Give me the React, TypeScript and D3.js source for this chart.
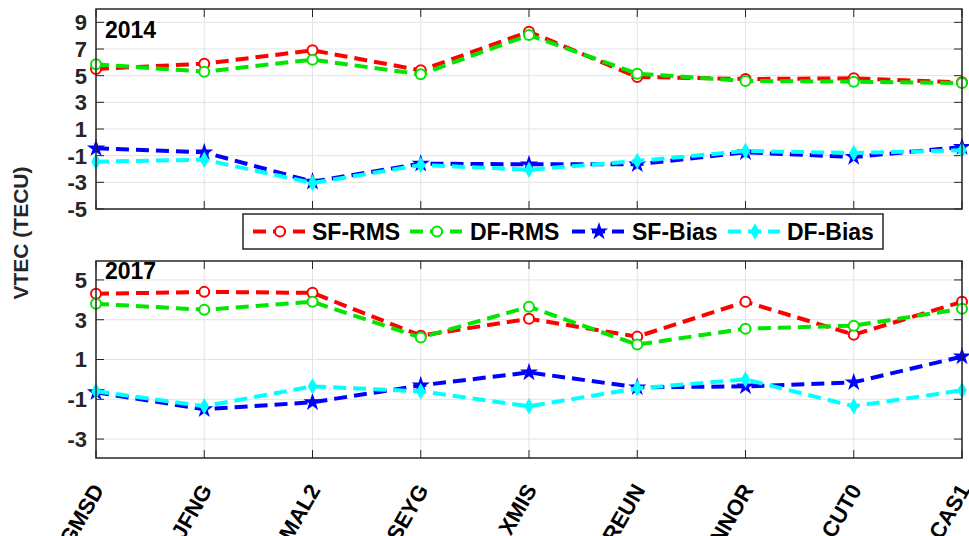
import React from 'react';
import * as d3 from 'd3';

// stations along the x axis
const stations = ['GMSD', 'JFNG', 'MAL2', 'SEYG', 'XMIS', 'REUN', 'NNOR', 'CUT0', 'CAS1'];

// 2014 panel
const sfRms2014 = [5.5, 5.9, 6.9, 5.4, 8.3, 4.9, 4.75, 4.8, 4.5];
const dfRms2014 = [5.85, 5.3, 6.2, 5.1, 8.05, 5.15, 4.6, 4.55, 4.45];
const sfBias2014 = [-0.45, -0.75, -2.95, -1.6, -1.65, -1.65, -0.75, -1.1, -0.35];
const dfBias2014 = [-1.45, -1.3, -3.05, -1.7, -2.05, -1.4, -0.65, -0.8, -0.6];

// 2017 panel
const sfRms2017 = [4.3, 4.4, 4.35, 2.2, 3.05, 2.15, 3.9, 2.25, 3.9];
const dfRms2017 = [3.8, 3.5, 3.9, 2.1, 3.65, 1.75, 2.55, 2.7, 3.55];
const sfBias2017 = [-0.65, -1.5, -1.15, -0.3, 0.35, -0.4, -0.35, -0.15, 1.15];
const dfBias2017 = [-0.6, -1.35, -0.35, -0.6, -1.35, -0.45, 0.0, -1.35, -0.55];

const ticks2014 = [9, 7, 5, 3, 1, -1, -3, -5];
const ticks2017 = [5, 3, 1, -1, -3];

const seriesNames = ['SF-RMS', 'DF-RMS', 'SF-Bias', 'DF-Bias'];
const colors = ['#ff0000', '#00e600', '#0000ff', '#00ffff'];

const FONT = '"Liberation Sans", Arial, sans-serif';
const AXIS = '#262626';
const GRID = '#e3e3e3';
const DASH = '13,7';

const left = 96;
const right = 962;

const x = d3.scalePoint<string>().domain(stations).range([left, right]);

function Marker({ kind, cx, cy, color }: { kind: number; cx: number; cy: number; color: string }) {
  if (kind < 2) {
    return <circle cx={cx} cy={cy} r={5} fill="#fff" stroke={color} strokeWidth={2} />;
  }
  const sym = kind === 2 ? d3.symbolStar : d3.symbolDiamond;
  const path = d3.symbol().type(sym).size(kind === 2 ? 45 : 45)() as string;
  return <path d={path} transform={`translate(${cx},${cy})`} fill={color} stroke={color} strokeWidth={2} />;
}

function Panel({ top, bottom, domain, ticks, label, labelY, series }: {
  top: number; bottom: number; domain: [number, number]; ticks: number[]; label: string; labelY: number; series: number[][];
}) {
  const y = d3.scaleLinear().domain(domain).range([bottom, top]);
  const line = d3.line<number>().x((_, i) => x(stations[i]) as number).y((d) => y(d));
  return (
    <g>
      <rect x={left} y={top} width={right - left} height={bottom - top} fill="#fff" />
      {ticks.map((t) => (
        <line key={'gy' + t} x1={left} x2={right} y1={y(t)} y2={y(t)} stroke={GRID} strokeWidth={1} />
      ))}
      {stations.map((s) => (
        <line key={'gx' + s} x1={x(s)} x2={x(s)} y1={top} y2={bottom} stroke={GRID} strokeWidth={1} />
      ))}
      {/* inward tick marks */}
      {ticks.map((t) => (
        <g key={'t' + t}>
          <line x1={left} x2={left + 8} y1={y(t)} y2={y(t)} stroke={AXIS} strokeWidth={1} />
          <line x1={right - 8} x2={right} y1={y(t)} y2={y(t)} stroke={AXIS} strokeWidth={1} />
          <text x={87} y={y(t)} dy="0.36em" textAnchor="end" fontFamily={FONT} fontWeight="bold" fontSize={22} fill="#262626">
            {t}
          </text>
        </g>
      ))}
      {stations.map((s) => (
        <g key={'tx' + s}>
          <line x1={x(s)} x2={x(s)} y1={top} y2={top + 8} stroke={AXIS} strokeWidth={1} />
          <line x1={x(s)} x2={x(s)} y1={bottom - 8} y2={bottom} stroke={AXIS} strokeWidth={1} />
        </g>
      ))}
      {series.map((vals, k) => (
        <g key={'s' + k}>
          <path d={line(vals) as string} fill="none" stroke={colors[k]} strokeWidth={4} strokeDasharray={DASH} />
          {vals.map((v, i) => (
            <Marker key={i} kind={k} cx={x(stations[i]) as number} cy={y(v)} color={colors[k]} />
          ))}
        </g>
      ))}
      <rect x={left} y={top} width={right - left} height={bottom - top} fill="none" stroke={AXIS} strokeWidth={1.5} />
      <text x={left + 9} y={labelY} fontFamily={FONT} fontWeight="bold" fontSize={23} fill="#000">
        {label}
      </text>
    </g>
  );
}

export default function App() {
  const legendItems = [
    { line: 253, text: 312 },
    { line: 410, text: 470 },
    { line: 572, text: 632 },
    { line: 728, text: 787 },
  ];
  return (
    <svg width={969} height={536} style={{ position: 'absolute', left: 0, top: 0, background: '#fff' }}>
      <Panel top={9} bottom={209} domain={[-5, 10]} ticks={ticks2014} label="2014" labelY={38}
        series={[sfRms2014, dfRms2014, sfBias2014, dfBias2014]} />
      <Panel top={261} bottom={458} domain={[-3 - 19 / 19.96, 5 + 19 / 19.96]} ticks={ticks2017} label="2017" labelY={279}
        series={[sfRms2017, dfRms2017, sfBias2017, dfBias2017]} />

      {/* legend */}
      <rect x={243} y={214} width={640} height={35} fill="#fff" stroke={AXIS} strokeWidth={1.5} />
      {seriesNames.map((n, k) => {
        const it = legendItems[k];
        const cy = 231.5;
        return (
          <g key={n}>
            <line x1={it.line} x2={it.line + 52} y1={cy} y2={cy} stroke={colors[k]} strokeWidth={4} strokeDasharray={DASH} />
            <Marker kind={k} cx={it.line + 27} cy={cy} color={colors[k]} />
            <text x={it.text} y={cy} dy="0.36em" fontFamily={FONT} fontWeight="bold" fontSize={23} fill="#000">
              {n}
            </text>
          </g>
        );
      })}

      {/* y label */}
      <text transform="translate(28,233) rotate(-90)" textAnchor="middle" fontFamily={FONT} fontWeight="bold" fontSize={21} fill="#262626">
        VTEC (TECU)
      </text>

      {/* x tick labels */}
      {stations.map((s) => (
        <text key={'xl' + s} transform={`translate(${(x(s) as number) + 2},${486}) rotate(-60)`} textAnchor="end"
          dy="0.35em" fontFamily={FONT} fontWeight="bold" fontSize={22} fill="#000">
          {s}
        </text>
      ))}
    </svg>
  );
}
